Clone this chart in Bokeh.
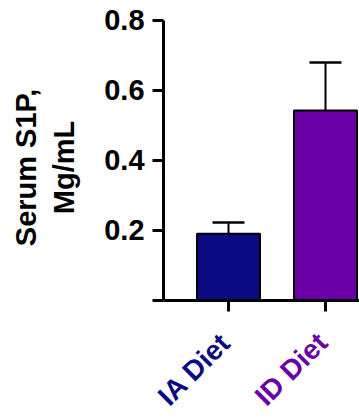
import math
from bokeh.plotting import figure
from bokeh.models import ColumnDataSource, Range1d, Whisker, TeeHead
from bokeh.core.properties import value
from bokeh.embed import file_html
from bokeh.resources import INLINE

# ---- data ----
categories = ["IA Diet", "ID Diet"]
means = [0.191, 0.543]
errors_up = [0.032, 0.137]
bar_colors = ["#0a0a82", "#6a00a6"]
y_ticks = [0.0, 0.2, 0.4, 0.6, 0.8]
y_tick_labels = ["", "0.2", "0.4", "0.6", "0.8"]
y_title_lines = ["Serum S1P,", "Mg/mL"]

FONT = "Liberation Sans"
AXIS_X = -0.67          # data x where the y axis sits
X_END = 1.3505

xs = list(range(len(categories)))
src = ColumnDataSource(dict(
    x=xs, top=means,
    upper=[m + e for m, e in zip(means, errors_up)],
    color=bar_colors, name=categories,
))

p = figure(width=359, height=419, output_backend="svg", toolbar_location=None,
           x_range=Range1d(-2.3505, X_END), y_range=Range1d(-0.34, 0.857),
           x_axis_location=None, y_axis_location=None,
           min_border_left=0, min_border_right=0, min_border_top=0,
           min_border_bottom=0)
p.outline_line_color = None
p.xgrid.grid_line_color = None
p.ygrid.grid_line_color = None
p.background_fill_color = "white"
p.border_fill_color = "white"

# bars
p.vbar(x="x", top="top", width=0.65, source=src, fill_color="color",
       line_color="black", line_width=2)

# upper error bars
w = Whisker(base="x", lower="top", upper="upper", source=src, dimension="height",
            line_color="black", line_width=2,
            upper_head=TeeHead(size=32, line_color="black", line_width=2.5),
            lower_head=None)
p.add_layout(w)

# axis lines
y_min, y_max = min(y_ticks), max(y_ticks)
p.segment(x0=[AXIS_X, AXIS_X], y0=[y_min, y_min], x1=[AXIS_X, X_END],
          y1=[y_max, y_min], line_color="black", line_width=3)
# y ticks (pointing left) and x ticks (pointing down)
p.ray(x=[AXIS_X] * len(y_ticks), y=y_ticks, length=11, length_units="screen",
      angle=math.pi, line_color="black", line_width=3)
p.ray(x=xs, y=[y_min] * len(xs), length=11, length_units="screen",
      angle=-math.pi / 2, line_color="black", line_width=3)

# category labels (rotated, coloured)
p.text(x="x", y=-0.107, text="name", source=src, angle=math.pi / 4,
       x_offset=-3, text_align="right", text_baseline="middle",
       text_font=value(FONT), text_font_style="bold",
       text_font_size="28px", text_color="color")

# y tick labels
tsrc = ColumnDataSource(dict(y=y_ticks[1:], t=y_tick_labels[1:]))
p.text(x=AXIS_X, y="y", text="t", source=tsrc, x_offset=-19,
       text_align="right", text_baseline="middle",
       text_font=value(FONT), text_font_style="bold",
       text_font_size="29px", text_color="black")

# y axis title (two lines, rotated)
p.text(x=[-2.088, -1.696], y=[0.38, 0.38], text=y_title_lines, angle=math.pi / 2,
       text_align="center", text_baseline="middle",
       text_font=value(FONT), text_font_style="bold",
       text_font_size="29px", text_color="black")

open("out.html", "w").write(file_html(p, INLINE))
